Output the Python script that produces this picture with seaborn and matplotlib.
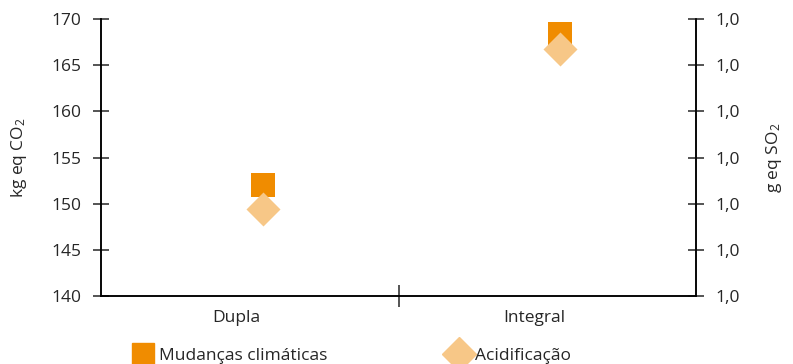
import matplotlib
matplotlib.use("Agg")
import matplotlib.pyplot as plt
import matplotlib.transforms as mtransforms
from matplotlib.lines import Line2D
import seaborn as sns

# data
sistemas = ["Dupla", "Integral"]
mudancas_climaticas = [152.0, 168.4]     # kg eq CO2 (left axis)
acidificacao = [0.9888, 1.0236]          # g eq SO2 (right axis)
left_ticks = [140, 145, 150, 155, 160, 165, 170]
right_ticks = [0.97, 0.98, 0.99, 1.00, 1.01, 1.02, 1.03]

cor_quadrado = "#F08C00"
cor_losango = "#F7C787"

sns.set_style("white")
plt.rcParams["font.family"] = ["Open Sans", "DejaVu Sans"]
plt.rcParams["mathtext.fontset"] = "custom"
plt.rcParams["mathtext.rm"] = "Open Sans"
plt.rcParams["mathtext.it"] = "Open Sans"
plt.rcParams["font.size"] = 12.5

fig = plt.figure(figsize=(7.93, 3.64), dpi=100)
ax = fig.add_axes([0.1274, 0.1868, 0.7503, 0.761])
ax2 = ax.twinx()

sns.scatterplot(x=sistemas, y=mudancas_climaticas, marker="s", s=300,
                color=cor_quadrado, linewidth=0, ax=ax, zorder=3)
sns.scatterplot(x=sistemas, y=acidificacao, marker="D", s=300,
                color=cor_losango, linewidth=0, ax=ax2, zorder=3)

# small right-shift of the markers, as in the original
shift = mtransforms.ScaledTranslation(13 / 100, 0, fig.dpi_scale_trans)
ax.collections[0].set_offset_transform(ax.transData + shift)
ax2.collections[0].set_offset_transform(ax2.transData + shift)

ax.set_xlim(-0.5, 1.5)
ax.set_ylim(140, 170)
ax.set_yticks(left_ticks)
ax2.set_ylim(0.97, 1.03)
ax2.set_yticks(right_ticks)
ax2.set_yticklabels([f"{v:.1f}".replace(".", ",") for v in right_ticks])

# category labels at 0 and 1, a single divider tick at 0.5
ax.set_xticks([0, 0.5, 1])
ax.set_xticklabels(["Dupla", "", "Integral"])
ax.tick_params(axis="x", bottom=True, direction="inout", length=16, width=1.1,
               pad=2, labelsize=12.5)
for i, t in enumerate(ax.xaxis.get_major_ticks()):
    if i != 1:
        t.tick1line.set_visible(False)
        t.tick2line.set_visible(False)
lshift = mtransforms.ScaledTranslation(-13 / 100, 0, fig.dpi_scale_trans)
for lab in ax.get_xticklabels():
    lab.set_transform(lab.get_transform() + lshift)

ax.tick_params(axis="y", left=True, direction="inout", length=12, width=1.1,
               pad=8, labelsize=12.5)
ax2.tick_params(axis="y", right=True, direction="inout", length=12, width=1.1,
                pad=8, labelsize=12.5)

for a in (ax, ax2):
    for side in ("left", "right", "bottom"):
        a.spines[side].set_visible(True)
        a.spines[side].set_color("black")
        a.spines[side].set_linewidth(1.1)
    a.spines["top"].set_visible(False)
    a.grid(False)

ax.set_xlabel("")
ax.set_ylabel("kg eq CO$_2$", fontsize=12.5, labelpad=16)
ax2.set_ylabel("g eq SO$_2$", fontsize=12.5, labelpad=17)

handles = [
    Line2D([], [], marker="s", linestyle="", markersize=16, color=cor_quadrado),
    Line2D([], [], marker="D", linestyle="", markersize=17, color=cor_losango),
]
fig.legend(handles, ["Mudanças climáticas", "Acidificação"], loc="lower left",
           bbox_to_anchor=(0.148, -0.042), ncol=2, frameon=False,
           columnspacing=7.0, handletextpad=0.3, handlelength=1.2, fontsize=12.5)

fig.savefig("out.png", dpi=100)
